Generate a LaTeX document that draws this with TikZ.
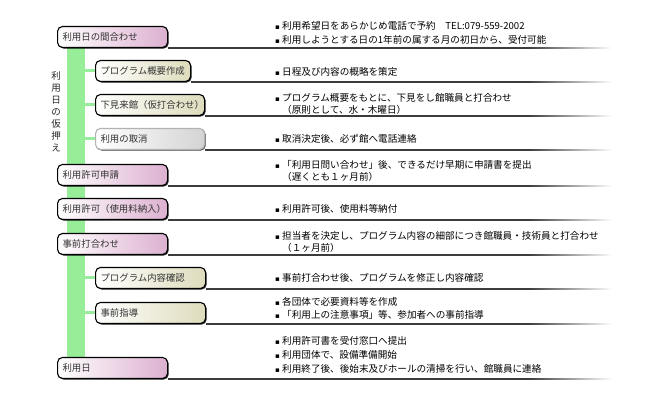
\documentclass[tikz,border=0pt]{standalone}
\usepackage{fontspec}
\newfontfamily\jp{Noto Sans CJK JP}
\newfontfamily\dv{DejaVu Sans}
\usetikzlibrary{shadows}
\definecolor{pinkR}{RGB}{220,176,208}
\definecolor{khaki}{RGB}{222,220,188}
\definecolor{greyR}{RGB}{212,212,212}
\definecolor{barg}{RGB}{152,238,152}
\definecolor{linec}{RGB}{60,60,60}
\newcommand\bul{\makebox[7pt][l]{\dv\fontsize{7}{7}\selectfont ▪}}
\begin{document}
\begin{tikzpicture}[x=1pt,y=-1pt,
  box/.style={rounded corners=5pt, line width=1.1pt, draw=black,
    drop shadow={shadow xshift=1.1pt,shadow yshift=-1.1pt,opacity=0.85,fill=black},
    left color=white, inner xsep=5pt, inner ysep=0pt, minimum height=21pt,
    align=left, anchor=south west, font=\jp\fontsize{9.4}{11}\selectfont, text=black!80},
  mainbox/.style={box, right color=pinkR, text width=100pt},
  subbox/.style={box, right color=khaki},
  greybox/.style={box, right color=greyR, draw=black!30,
    drop shadow={shadow xshift=1.1pt,shadow yshift=-1.1pt,opacity=0.5,fill=black!40}},
  rt/.style={font=\jp\fontsize{9.6}{11}\selectfont, anchor=west, inner sep=0pt},
  conn/.style={barg, line width=3pt},
  rowline/.style={linec, line width=1.1pt},
]
\useasboundingbox (0,0) rectangle (660,400);
% green bar
\node[fill=barg, inner sep=0pt, minimum width=18pt, minimum height=316pt, anchor=north west] (bar) at (67,44) {};
% vertical label
\node[font=\jp\fontsize{9.5}{12}\selectfont, align=center, inner sep=0pt, text=black!85] (vt) at (56,112) {利\\用\\日\\の\\仮\\押\\え};
% boxes
\node[mainbox] (b1) at (57,48) {利用日の間合わせ};
\node[subbox, text width=85pt] (s1) at (95,82) {プログラム概要作成};
\node[subbox, text width=99pt] (s2) at (95,116) {下見来館（仮打合わせ）};
\node[greybox, text width=99pt] (s3) at (95,150) {利用の取消};
\node[mainbox] (b2) at (57,186) {利用許可申請};
\node[mainbox] (b3) at (57,220) {利用許可（使用料納入）};
\node[mainbox] (b4) at (57,255) {事前打合わせ};
\node[subbox, text width=100pt] (s4) at (95,289) {プログラム内容確認};
\node[subbox, text width=100pt] (s5) at (95,324) {事前指導};
\node[mainbox] (b5) at (57,379) {利用日};
% green connectors
\foreach \s in {s1,s2,s3,s4,s5}
  \draw[conn] (bar.east |- \s.west) -- (\s.west);
% row lines
\coordinate (fx) at (528,0);
\coordinate (fe) at (612,0);
\foreach \n in {b1,s1,s2,s3,b2,b3,b4,s4,s5,b5} {
  \draw[rowline] (\n.south east) -- (\n.south east -| fx);
  \shade[left color=linec, right color=white]
    ([yshift=0.55pt]\n.south east -| fx) rectangle ([yshift=-0.55pt]\n.south east -| fe);
}
% right texts
\node[rt] (t1a) at (275,26) {\bul 利用希望日をあらかじめ電話で予約　TEL:079-559-2002};
\node[rt] (t1b) at (275,40) {\bul 利用しようとする日の1年前の属する月の初日から、受付可能};
\node[rt] (t2) at (275,72) {\bul 日程及び内容の概略を策定};
\node[rt] (t3a) at (275,98) {\bul プログラム概要をもとに、下見をし館職員と打合わせ};
\node[rt] (t3b) at (282,110) {（原則として、水・木曜日）};
\node[rt] (t4) at (275,139) {\bul 取消決定後、必ず館へ電話連絡};
\node[rt] (t5a) at (275,165) {\bul 「利用日問い合わせ」後、できるだけ早期に申請書を提出};
\node[rt] (t5b) at (282,177) {（遅くとも１ヶ月前）};
\node[rt] (t6) at (275,209) {\bul 利用許可後、使用料等納付};
\node[rt] (t7a) at (275,236) {\bul 担当者を決定し、プログラム内容の細部につき館職員・技術員と打合わせ};
\node[rt] (t7b) at (282,248) {（１ヶ月前）};
\node[rt] (t8) at (275,278) {\bul 事前打合わせ後、プログラムを修正し内容確認};
\node[rt] (t9a) at (275,302) {\bul 各団体で必要資料等を作成};
\node[rt] (t9b) at (275,315) {\bul 「利用上の注意事項」等、参加者への事前指導};
\node[rt] (t10a) at (275,341) {\bul 利用許可書を受付窓口へ提出};
\node[rt] (t10b) at (275,355) {\bul 利用団体で、設備準備開始};
\node[rt] (t10c) at (275,369) {\bul 利用終了後、後始末及びホールの清掃を行い、館職員に連絡};
\end{tikzpicture}
\end{document}
